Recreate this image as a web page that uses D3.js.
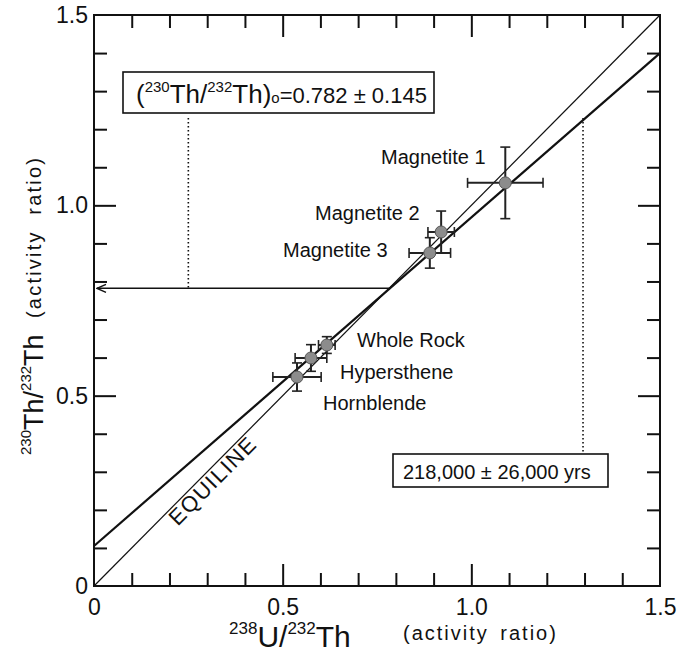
<html>
<head>
    <script src="https://cdn.jsdelivr.net/npm/d3@7"></script>
    <style>
        body {
            margin: 0;
            background: white;
            font-family: "Liberation Sans", Arial, sans-serif;
        }
        svg text {
            fill: #111;
        }
    </style>
</head>
<body>
    <svg id="chart"></svg>
</body>
<script>
    // samples and their activity ratios
    const samples = ["Magnetite 1", "Magnetite 2", "Magnetite 3", "Whole Rock", "Hypersthene", "Hornblende"];
    const uTh = [1.09, 0.92, 0.89, 0.617, 0.575, 0.538];        // 238U/232Th
    const uThErr = [0.10, 0.035, 0.055, 0.022, 0.042, 0.064];
    const thTh = [1.059, 0.93, 0.875, 0.633, 0.599, 0.549];     // 230Th/232Th
    const thThErr = [0.094, 0.055, 0.04, 0.022, 0.035, 0.037];

    const equiline = [[0, 0], [1.5, 1.5]];
    const isochron = [[0, 0.105], [1.5, 1.40]];
    const initialRatio = 0.782;
    const dottedX = [0.25, 1.296];

    const majorTicks = [0, 0.5, 1.0, 1.5];
    const majorLabels = ["0", "0.5", "1.0", "1.5"];
    const minorTicks = [0.1, 0.2, 0.3, 0.4, 0.6, 0.7, 0.8, 0.9, 1.1, 1.2, 1.3, 1.4];

    function getConfig() {
        let width = 681;
        let height = 656;
        let container = d3.select("#chart")
            .attr("width", width)
            .attr("height", height);
        let x = d3.scaleLinear().domain([0, 1.5]).range([94, 660]);
        let y = d3.scaleLinear().domain([0, 1.5]).range([586, 15]);
        return {width, height, container, x, y};
    }

    function drawFrame(config) {
        let {container, x, y} = config;
        let g = container.append("g");

        // inward ticks on all four sides
        let sides = [
            {axis: d3.axisBottom(x), t: "translate(0," + y(0) + ")"},
            {axis: d3.axisTop(x), t: "translate(0," + y(1.5) + ")"},
            {axis: d3.axisLeft(y), t: "translate(" + x(0) + ",0)"},
            {axis: d3.axisRight(y), t: "translate(" + x(1.5) + ",0)"}
        ];
        sides.forEach(s => {
            g.append("g").attr("transform", s.t)
                .call(s.axis.tickValues(minorTicks).tickSize(-13).tickFormat(""))
                .call(a => a.select(".domain").remove());
            g.append("g").attr("transform", s.t)
                .call(s.axis.tickValues([0.5, 1.0]).tickSize(-22).tickFormat(""))
                .call(a => a.select(".domain").remove());
        });
        g.selectAll(".tick line").attr("stroke", "#111").attr("stroke-width", 2);

        // tick labels
        g.append("g").attr("transform", "translate(0," + y(0) + ")")
            .call(d3.axisBottom(x).tickValues(majorTicks).tickSize(0).tickPadding(13)
                .tickFormat((d, i) => majorLabels[i]))
            .call(a => a.select(".domain").remove())
            .selectAll("text").attr("font-size", 23).attr("font-family", "Liberation Sans, Arial, sans-serif");
        g.append("g").attr("transform", "translate(" + x(0) + ",0)")
            .call(d3.axisLeft(y).tickValues(majorTicks).tickSize(0).tickPadding(6)
                .tickFormat((d, i) => majorLabels[i]))
            .call(a => a.select(".domain").remove())
            .selectAll("text").attr("font-size", 23).attr("font-family", "Liberation Sans, Arial, sans-serif");

        g.append("rect")
            .attr("x", x(0)).attr("y", y(1.5))
            .attr("width", x(1.5) - x(0)).attr("height", y(0) - y(1.5))
            .attr("fill", "none").attr("stroke", "#111").attr("stroke-width", 2);
    }

    function drawTitles(config) {
        let {container} = config;
        let xt = container.append("text").attr("x", 229).attr("y", 647).attr("font-size", 30);
        xt.append("tspan").attr("font-size", 17).attr("dy", -13).text("238");
        xt.append("tspan").attr("dy", 13).text("U/");
        xt.append("tspan").attr("font-size", 17).attr("dy", -13).text("232");
        xt.append("tspan").attr("dy", 13).text("Th");
        container.append("text").attr("x", 403).attr("y", 640)
            .attr("font-size", 20).attr("letter-spacing", 2).attr("word-spacing", 4)
            .text("(activity ratio)");

        let yt = container.append("text")
            .attr("transform", "translate(43,455) rotate(-90)")
            .attr("font-size", 27);
        yt.append("tspan").attr("font-size", 15).attr("dy", -12).text("230");
        yt.append("tspan").attr("dy", 12).text("Th/");
        yt.append("tspan").attr("font-size", 15).attr("dy", -12).text("232");
        yt.append("tspan").attr("dy", 12).text("Th");
        container.append("text")
            .attr("transform", "translate(41,318) rotate(-90)")
            .attr("font-size", 20).attr("letter-spacing", 2.2).attr("word-spacing", 8)
            .text("(activity ratio)");
    }

    function drawLines(config) {
        let {container, x, y} = config;
        let line = d3.line().x(d => x(d[0])).y(d => y(d[1]));

        container.append("path").attr("d", line(equiline))
            .attr("fill", "none").attr("stroke", "#111").attr("stroke-width", 1.2);
        container.append("path").attr("d", line(isochron))
            .attr("fill", "none").attr("stroke", "#111").attr("stroke-width", 2.2);

        container.append("text")
            .attr("transform", "translate(218,486) rotate(-45.3)")
            .attr("text-anchor", "middle")
            .attr("font-size", 22).attr("letter-spacing", 1.5)
            .text("EQUILINE");

        // arrow from the intersection back to the y axis
        container.append("defs").append("marker")
            .attr("id", "arrow")
            .attr("viewBox", "-11 -6 12 12")
            .attr("refX", 0).attr("refY", 0)
            .attr("markerWidth", 12).attr("markerHeight", 12)
            .attr("markerUnits", "userSpaceOnUse")
            .attr("orient", "auto")
            .append("path")
            .attr("d", "M-9,-4L0,0L-9,4")
            .attr("fill", "none").attr("stroke", "#111").attr("stroke-width", 1.4);
        container.append("line")
            .attr("x1", x(initialRatio)).attr("y1", y(initialRatio))
            .attr("x2", x(0) + 3).attr("y2", y(initialRatio))
            .attr("stroke", "#111").attr("stroke-width", 1.6)
            .attr("marker-end", "url(#arrow)");

        // dotted leaders to the boxes
        container.append("line")
            .attr("x1", x(dottedX[0])).attr("x2", x(dottedX[0]))
            .attr("y1", 118).attr("y2", y(initialRatio))
            .attr("stroke", "#111").attr("stroke-width", 1.6).attr("stroke-dasharray", "1.5,2.5");
        container.append("line")
            .attr("x1", x(dottedX[1])).attr("x2", x(dottedX[1]))
            .attr("y1", 118).attr("y2", 454)
            .attr("stroke", "#111").attr("stroke-width", 1.6).attr("stroke-dasharray", "1.5,2.5");
    }

    function drawBoxes(config) {
        let {container} = config;
        container.append("rect").attr("x", 123).attr("y", 72).attr("width", 311).attr("height", 41)
            .attr("fill", "white").attr("stroke", "#111").attr("stroke-width", 1.6);
        let t = container.append("text").attr("x", 136).attr("y", 103).attr("font-size", 26);
        t.append("tspan").text("(");
        t.append("tspan").attr("font-size", 15).attr("dy", -11).text("230");
        t.append("tspan").attr("dy", 11).text("Th/");
        t.append("tspan").attr("font-size", 15).attr("dy", -11).text("232");
        t.append("tspan").attr("dy", 11).text("Th)");
        t.append("tspan").attr("font-size", 15).text("o");
        t.append("tspan").attr("font-size", 22).text("=0.782 \u00b1 0.145");

        container.append("rect").attr("x", 393).attr("y", 454).attr("width", 215).attr("height", 33)
            .attr("fill", "white").attr("stroke", "#111").attr("stroke-width", 1.6);
        container.append("text").attr("x", 403).attr("y", 479).attr("font-size", 20)
            .text("218,000 \u00b1 26,000 yrs");
    }

    function drawPoints(config) {
        let {container, x, y} = config;
        let data = samples.map((s, i) => ({name: s, x: uTh[i], xe: uThErr[i], y: thTh[i], ye: thThErr[i]}));
        let cap = 5;

        let g = container.append("g").selectAll("g").data(data).enter().append("g");
        g.append("line")
            .attr("x1", d => x(d.x - d.xe)).attr("x2", d => x(d.x + d.xe))
            .attr("y1", d => y(d.y)).attr("y2", d => y(d.y))
            .attr("stroke", "#222").attr("stroke-width", 2);
        g.append("line")
            .attr("x1", d => x(d.x)).attr("x2", d => x(d.x))
            .attr("y1", d => y(d.y - d.ye)).attr("y2", d => y(d.y + d.ye))
            .attr("stroke", "#222").attr("stroke-width", 2);
        [-1, 1].forEach(s => {
            g.append("line")
                .attr("x1", d => x(d.x + s * d.xe)).attr("x2", d => x(d.x + s * d.xe))
                .attr("y1", d => y(d.y) - cap).attr("y2", d => y(d.y) + cap)
                .attr("stroke", "#222").attr("stroke-width", 1.6);
            g.append("line")
                .attr("x1", d => x(d.x) - cap).attr("x2", d => x(d.x) + cap)
                .attr("y1", d => y(d.y + s * d.ye)).attr("y2", d => y(d.y + s * d.ye))
                .attr("stroke", "#222").attr("stroke-width", 1.6);
        });
        g.append("circle")
            .attr("cx", d => x(d.x)).attr("cy", d => y(d.y)).attr("r", 6)
            .attr("fill", "#8c8c8c").attr("stroke", "#555").attr("stroke-width", 1);

        // sample labels
        let labelPos = [[381, 164], [315, 220], [283, 257], [357, 347], [340, 379], [323, 410]];
        container.append("g").selectAll("text").data(samples).enter().append("text")
            .attr("x", (d, i) => labelPos[i][0]).attr("y", (d, i) => labelPos[i][1])
            .attr("font-size", 20)
            .text(d => d);
    }

    let config = getConfig();
    drawFrame(config);
    drawTitles(config);
    drawLines(config);
    drawBoxes(config);
    drawPoints(config);
</script>
</html>
